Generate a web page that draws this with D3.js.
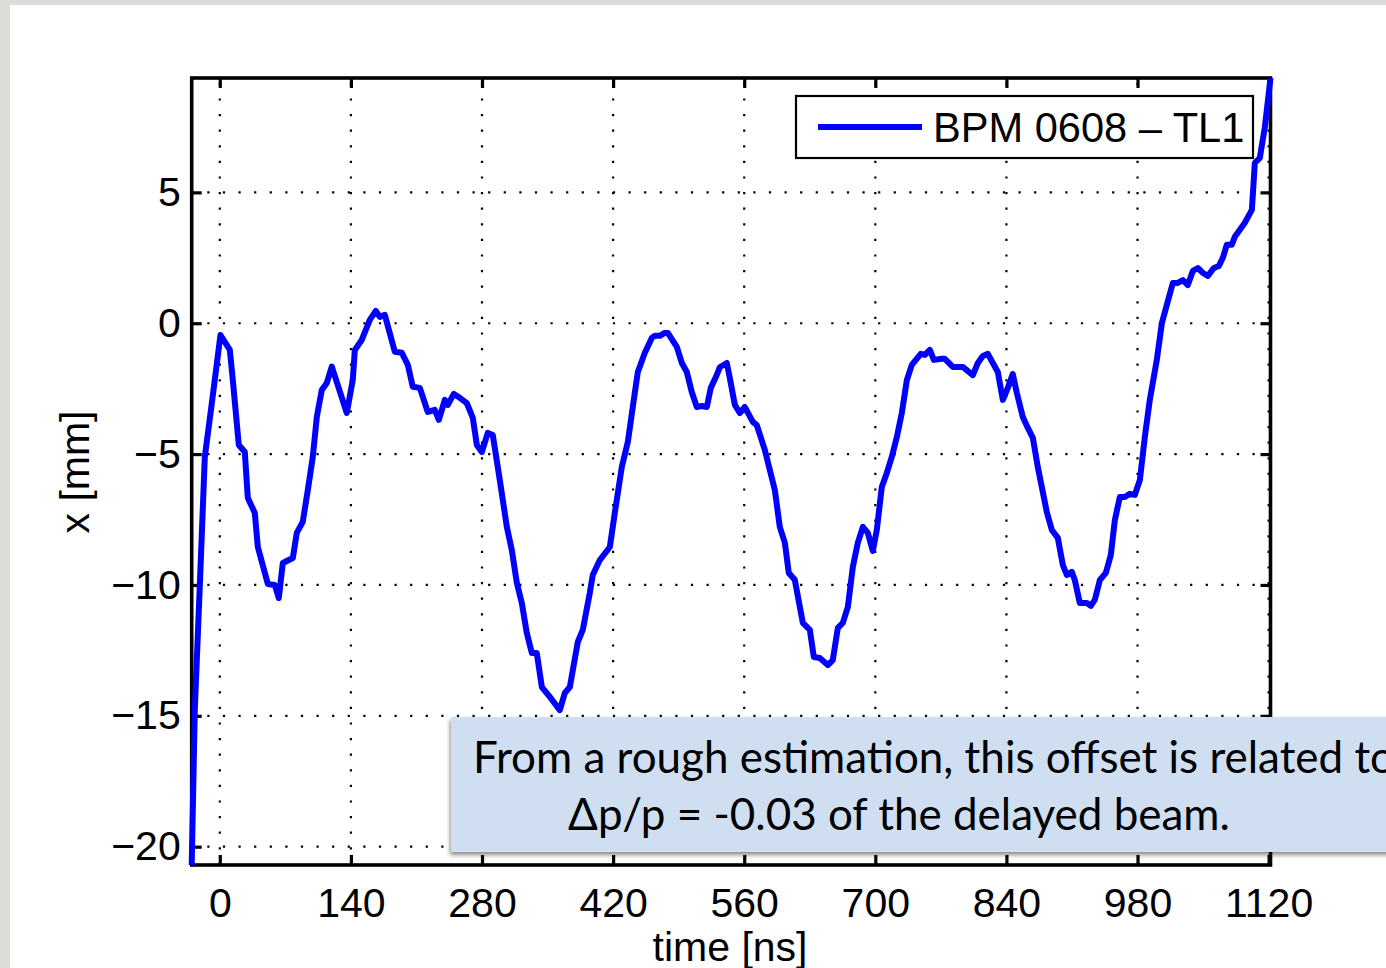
<!DOCTYPE html>
<html>
<head>
<meta charset="utf-8">
<script src="https://cdn.jsdelivr.net/npm/d3@7"></script>
<style>
  html, body { margin: 0; padding: 0; background: #dcdcd8; }
  svg { display: block; }
</style>
</head>
<body>
<svg id="chart" width="1386" height="968"></svg>
<script>
// ---- data ----
const time = [
  -30, -26.7, -21.4, -16.0, -8.5, 0.7, 10.7, 13.9, 20.3, 26.7,
  29.9, 37.4, 40.6, 51.3, 58.7, 63.0, 67.3, 78.0, 82.2, 88.6,
  94.0, 99.3, 103.6, 108.9, 114.3, 119.6, 135.6, 142.0, 144.2, 151.6,
  160.2, 166.6, 170.9, 176.2, 186.9, 194.4, 200.8, 206.1, 213.6, 222.1,
  229.6, 233.9, 240.3, 243.5, 249.9, 256.3, 263.8, 270.2, 274.5, 279.8,
  286.2, 291.5, 299.0, 306.5, 311.8, 317.2, 322.5, 327.8, 333.2, 338.5,
  343.9, 352.4, 363.1, 368.4, 373.8, 382.3, 387.6, 395.1, 398.3, 405.8,
  416.5, 421.8, 429.3, 435.7, 441.0, 446.4, 453.9, 461.3, 464.5, 469.9,
  475.2, 478.4, 488.0, 493.4, 498.7, 504.0, 509.4, 514.7, 520.1, 524.3,
  530.7, 533.9, 541.4, 544.6, 550.0, 555.3, 560.6, 569.2, 573.4, 582.0,
  592.7, 598.0, 603.4, 607.6, 614.0, 622.6, 630.1, 634.3, 640.7, 649.3,
  654.6, 660.0, 665.3, 670.7, 676.0, 681.3, 686.7, 692.0, 697.3, 701.6,
  706.9, 712.3, 717.6, 723.0, 728.3, 733.7, 739.0, 743.3, 748.6, 752.9,
  758.2, 762.5, 771.0, 774.2, 782.8, 793.4, 804.1, 809.5, 814.8, 820.2,
  825.5, 830.8, 836.2, 841.5, 846.8, 851.1, 857.5, 862.9, 868.2, 873.5,
  883.1, 888.5, 894.9, 900.2, 904.5, 909.8, 913.0, 918.4, 925.9, 930.1,
  934.4, 939.8, 946.2, 951.5, 955.8, 961.1, 966.4, 971.8, 977.1, 982.5,
  987.8, 993.1, 1000.6, 1006.0, 1011.3, 1017.7, 1023.0, 1028.4, 1033.7, 1039.1,
  1044.4, 1049.8, 1055.1, 1061.5, 1066.9, 1071.1, 1075.4, 1080.7, 1083.9, 1089.3,
  1094.6, 1102.1, 1105.3, 1110.6, 1116.0, 1122
];
const xPos = [
  -20.7, -14.78, -10.08, -5.11, -3.05, -0.45, -1.02, -2.17, -4.65, -4.92,
  -6.67, -7.25, -8.55, -9.96, -10.0, -10.50, -9.16, -8.97, -8.01, -7.59,
  -6.37, -5.11, -3.58, -2.55, -2.28, -1.66, -3.43, -2.17, -1.02, -0.64,
  0.13, 0.47, 0.24, 0.32, -1.09, -1.13, -1.59, -2.43, -2.47, -3.39,
  -3.31, -3.69, -2.93, -3.12, -2.70, -2.85, -3.05, -3.62, -4.65, -4.92,
  -4.19, -4.27, -5.99, -7.78, -8.66, -9.92, -10.69, -11.83, -12.60, -12.60,
  -13.90, -14.28, -14.78, -14.13, -13.90, -12.18, -11.72, -10.31, -9.62, -9.05,
  -8.55, -7.25, -5.49, -4.54, -3.20, -1.86, -1.13, -0.56, -0.48, -0.48,
  -0.37, -0.37, -0.90, -1.52, -1.86, -2.63, -3.20, -3.16, -3.20, -2.47,
  -1.98, -1.68, -1.52, -2.09, -3.12, -3.43, -3.20, -3.77, -3.89, -4.84,
  -6.37, -7.78, -8.39, -9.54, -9.80, -11.45, -11.72, -12.75, -12.79, -13.06,
  -12.87, -11.64, -11.45, -10.84, -9.31, -8.39, -7.78, -8.01, -8.70, -7.90,
  -6.26, -5.72, -5.11, -4.35, -3.43, -2.17, -1.59, -1.40, -1.17, -1.21,
  -1.02, -1.40, -1.36, -1.36, -1.67, -1.67, -1.98, -1.52, -1.25, -1.17,
  -1.52, -1.86, -2.93, -2.47, -1.94, -2.66, -3.58, -4.00, -4.38, -5.49,
  -7.21, -7.90, -8.20, -9.23, -9.62, -9.50, -9.81, -10.69, -10.69, -10.80,
  -10.57, -9.81, -9.54, -8.85, -7.52, -6.64, -6.64, -6.52, -6.56, -5.99,
  -4.35, -2.93, -1.40, 0.01, 0.70, 1.54, 1.54, 1.65, 1.46, 2.00,
  2.11, 1.92, 1.81, 2.11, 2.19, 2.50, 3.00, 3.00, 3.30, 3.57,
  3.84, 4.33, 6.13, 6.32, 7.50, 9.37
];
const xTicks = [0, 140, 280, 420, 560, 700, 840, 980, 1120];
const yTicks = [-20, -15, -10, -5, 0, 5];
const xDomain = [-30, 1122];
const yDomain = [-20.7, 9.37];
const seriesName = "BPM 0608 \u2013 TL1";
const xLabel = "time [ns]";
const yLabel = "x [mm]";
const noteLines = [
  "From a rough estimation, this offset is related to",
  "\u0394p/p = -0.03 of the delayed beam."
];

// ---- drawing ----
const svg = d3.select("#chart");
const W = 1386, H = 968;
const L = 191.7, R = 1270.5, T = 78, B = 865;

// slide background
svg.append("rect").attr("x", 0).attr("y", 0).attr("width", W).attr("height", H).attr("fill", "#dcdcd8");
svg.append("rect").attr("x", 10).attr("y", 5).attr("width", W - 10).attr("height", H - 5).attr("fill", "#ffffff");

const x = d3.scaleLinear().domain(xDomain).range([L, R]);
const y = d3.scaleLinear().domain(yDomain).range([B, T]);

const defs = svg.append("defs");
const f = defs.append("filter").attr("id", "shadow").attr("x", "-5%").attr("y", "-10%").attr("width", "110%").attr("height", "130%");
f.append("feDropShadow").attr("dx", -1).attr("dy", 3).attr("stdDeviation", 2.2)
  .attr("flood-color", "#000").attr("flood-opacity", 0.45);

// plot background
svg.append("rect").attr("x", L).attr("y", T).attr("width", R - L).attr("height", B - T).attr("fill", "#fff");

// grid (dotted)
const grid = svg.append("g").attr("stroke", "#000").attr("stroke-width", 2.2).attr("stroke-dasharray", "2.2,13.4");
grid.selectAll("line.gx").data(xTicks).join("line").attr("class", "gx")
  .attr("x1", d => x(d)).attr("x2", d => x(d)).attr("y1", B).attr("y2", T);
grid.selectAll("line.gy").data(yTicks).join("line").attr("class", "gy")
  .attr("x1", L).attr("x2", R).attr("y1", d => y(d)).attr("y2", d => y(d));

const font = "'Liberation Sans', Arial, Helvetica, sans-serif";
function styleAxis(g) {
  g.select(".domain").remove();
  g.selectAll(".tick line").attr("stroke", "#000").attr("stroke-width", 3.2);
  g.selectAll(".tick text").attr("fill", "#000").style("font-family", font).style("font-size", "41px");
}
// axes with inward ticks
svg.append("g").attr("transform", `translate(0,${B})`)
  .call(d3.axisBottom(x).tickValues(xTicks).tickSize(-10).tickPadding(23).tickFormat(d3.format("d")))
  .call(styleAxis);
svg.append("g").attr("transform", `translate(${L},0)`)
  .call(d3.axisLeft(y).tickValues(yTicks).tickSize(-10).tickPadding(11).tickFormat(d3.format("d")))
  .call(styleAxis);
svg.append("g").attr("transform", `translate(0,${T})`)
  .call(d3.axisTop(x).tickValues(xTicks).tickSize(-10).tickFormat(""))
  .call(styleAxis);
svg.append("g").attr("transform", `translate(${R},0)`)
  .call(d3.axisRight(y).tickValues(yTicks).tickSize(-10).tickFormat(""))
  .call(styleAxis);

// frame
svg.append("rect").attr("x", L).attr("y", T).attr("width", R - L).attr("height", B - T)
  .attr("fill", "none").attr("stroke", "#000").attr("stroke-width", 3.6);

// data line
const pts = time.map((t, i) => [t, xPos[i]]);
svg.append("path").datum(pts)
  .attr("d", d3.line().x(d => x(d[0])).y(d => y(d[1])))
  .attr("fill", "none").attr("stroke", "#0000ff").attr("stroke-width", 6)
  .attr("stroke-linejoin", "round").attr("stroke-linecap", "butt");

// legend
const lg = svg.append("g");
lg.append("rect").attr("x", 796).attr("y", 96).attr("width", 457).attr("height", 62)
  .attr("fill", "#fff").attr("stroke", "#000").attr("stroke-width", 2.2);
lg.append("line").attr("x1", 818).attr("x2", 922).attr("y1", 127).attr("y2", 127)
  .attr("stroke", "#0000ff").attr("stroke-width", 6);
lg.append("text").attr("x", 933).attr("y", 142).text(seriesName)
  .style("font-family", font).style("font-size", "41.6px").attr("fill", "#000");

// axis labels
svg.append("text").attr("x", 730).attr("y", 961).attr("text-anchor", "middle").text(xLabel)
  .style("font-family", font).style("font-size", "41px").attr("fill", "#000");
svg.append("text").attr("transform", "translate(89,472) rotate(-90)").attr("text-anchor", "middle").text(yLabel)
  .style("font-family", font).style("font-size", "41px").attr("fill", "#000");

// annotation box (runs off the right edge of the slide, as in the reference)
const nb = svg.append("g");
nb.append("rect").attr("x", 451).attr("y", 717).attr("width", 1100).attr("height", 135)
  .attr("fill", "#cfdff1").attr("filter", "url(#shadow)");
const noteFont = "Lato, 'Open Sans', sans-serif";
const t2 = nb.append("text").attr("x", 899).attr("y", 830).attr("text-anchor", "middle")
  .text(noteLines[1]).style("font-family", noteFont).style("font-size", "40px").attr("fill", "#000");
// fit font size so line 2 spans ~662px like the reference
const w2 = t2.node().getComputedTextLength();
const fs = 40 * 662 / w2;
t2.style("font-size", fs + "px");
nb.append("text").attr("x", 473).attr("y", 773).text(noteLines[0])
  .style("font-family", noteFont).style("font-size", fs + "px").attr("fill", "#000");
</script>
</body>
</html>
